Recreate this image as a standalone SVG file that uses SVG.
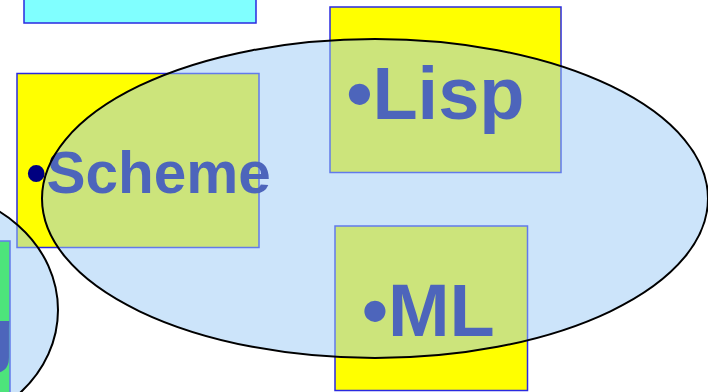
<svg xmlns="http://www.w3.org/2000/svg" width="708" height="392" viewBox="0 0 708 392">
  <style>
    .box { stroke: #2A2AE0; stroke-width: 1.5; }
    .yellow { fill: #FFFF00; }
    .lbl { font-family: "Liberation Sans", Arial, sans-serif; font-weight: bold; fill: #000080; }
    .cloud { fill: #99C9F5; fill-opacity: 0.5; stroke: #000000; stroke-width: 2; }
  </style>
  <rect width="708" height="392" fill="#FFFFFF"/>
  <g id="top-box">
    <rect class="box" x="24" y="-10" width="232" height="33" fill="#80FFFF"/>
  </g>
  <g id="scheme">
    <rect class="box yellow" x="17" y="73.5" width="242" height="174"/>
    <text class="lbl" x="26" y="193" font-size="58.5">•Scheme</text>
  </g>
  <g id="lisp">
    <rect class="box yellow" x="330" y="7" width="231" height="165.5"/>
    <text class="lbl" x="346.5" y="119" font-size="74">•Lisp</text>
  </g>
  <g id="ml">
    <rect class="box yellow" x="335" y="226" width="192.5" height="164.5"/>
    <text class="lbl" x="362" y="336" font-size="74">•ML</text>
  </g>
  <g id="left-box">
    <rect class="box" x="-20" y="241" width="30" height="170" fill="#00FF00"/>
    <text class="lbl" x="-30" y="359" font-size="72">g</text>
  </g>
  <g id="left-group">
    <ellipse class="cloud" cx="-79" cy="310" rx="137" ry="120"/>
  </g>
  <g id="main-group">
    <ellipse class="cloud" cx="375" cy="198.5" rx="333" ry="159.5"/>
  </g>
</svg>
